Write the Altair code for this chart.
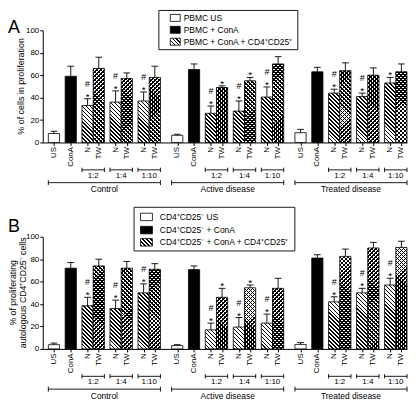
import math
import altair as alt
import pandas as pd

# ---------------- data ----------------
GROUPS = ["Control", "Active disease", "Treated disease"]
CONDITIONS = ["US", "ConA", "N", "TW", "N", "TW", "N", "TW"]
RATIOS = ["1:2", "1:4", "1:10"]

A_MEAN = [[8, 59, 33, 66, 36, 57, 37, 58],
          [6.4, 65, 26, 49, 28, 55, 40.5, 70],
          [8.7, 63, 44, 64, 41, 60, 53, 63]]
A_SEM = [[2, 9, 6, 10, 10, 5, 8, 10],
         [0.9, 5, 6.5, 1.5, 9, 3, 9, 6.5],
         [3, 4, 3.5, 7, 3, 6.5, 5, 7]]
A_STAR = [[0, 0, 1, 0, 1, 0, 1, 0], [0, 0, 1, 1, 1, 1, 1, 0], [0, 0, 1, 0, 1, 0, 1, 0]]
A_HASH = [[0, 0, 1, 0, 1, 0, 1, 0], [0, 0, 1, 0, 1, 0, 1, 0], [0, 0, 1, 0, 1, 0, 0, 0]]

B_MEAN = [[3.8, 72, 38.5, 74, 36, 72, 50, 71],
          [3, 70.7, 17, 46, 19.5, 54.5, 23, 54],
          [4, 81, 42, 82.5, 50, 90, 57, 90.5]]
B_SEM = [[1.4, 5, 7.5, 6, 7.5, 6, 8, 5],
         [0.8, 3.3, 6, 8, 8.5, 2.5, 8, 9],
         [1.6, 3, 4.5, 6.5, 4, 5, 6, 5.5]]
B_STAR = [[0, 0, 1, 0, 1, 0, 1, 0], [0, 0, 1, 1, 1, 1, 1, 0], [0, 0, 1, 0, 1, 0, 1, 0]]
B_HASH = [[0, 0, 1, 0, 1, 0, 1, 0], [0, 0, 1, 0, 1, 0, 1, 0], [0, 0, 1, 0, 1, 0, 1, 0]]

A_LEGEND = ["PBMC US", "PBMC + ConA", "PBMC + ConA + CD4\u207aCD25\u207a"]
B_LEGEND = ["CD4\u207aCD25\u207b US", "CD4\u207aCD25\u207b + ConA",
            "CD4\u207aCD25\u207b + ConA + CD4\u207aCD25\u207a"]
A_YTITLE = ["% of cells in proliferation"]
B_YTITLE = ["% of proliferating", "autologous CD4\u207aCD25\u207b cells"]

# ---------------- layout / style ----------------
PW, PH = 367, 113
XMAX = 32.5
SLOT = [0, 1.5, 3, 4, 5.5, 6.5, 8, 9]
GSTEP = 11
X0 = 1
FONT = "Liberation Sans, Arial, Helvetica, sans-serif"
PERIOD = 4.0
INK = 0.42
UNIT_PX = PW / XMAX

xs = alt.Scale(domain=[0, XMAX], nice=False, zero=False)
ys = alt.Scale(domain=[0, 100], nice=False, zero=True)

BAR_POS = [X0 + g * GSTEP + s for g in range(len(GROUPS)) for s in SLOT]
XAXIS = alt.Axis(values=BAR_POS, labels=False, tickSize=3, title=None, grid=False,
                 domainColor="black", tickColor="black", domainWidth=1, tickWidth=1)
YAXIS = alt.Axis(values=[0, 20, 40, 60, 80, 100], tickSize=3, title=None, grid=False,
                 labelFontSize=8, labelPadding=1, labelColor="black", labelFont=FONT,
                 domainColor="black", tickColor="black", domainWidth=1, tickWidth=1)


def X(f):
    return alt.X(f, scale=xs, axis=XAXIS)


def Y(f):
    return alt.Y(f, scale=ys, axis=YAXIS)


def stripe_fill(wpx, hpx, forward, paper):
    L = wpx + hpx
    k = L / (wpx ** 2 + hpx ** 2)
    if forward:
        x1, y1, x2, y2 = 0, 0, k * wpx, k * hpx
    else:
        x1, y1, x2, y2 = 0, 1, k * wpx, 1 - k * hpx
    stops = []
    n = int(math.ceil(L / PERIOD))
    for i in range(n):
        a = min(i * PERIOD / L, 1)
        b = min((i * PERIOD + INK * PERIOD) / L, 1)
        c = min((i + 1) * PERIOD / L, 1)
        stops += [(a, "black"), (b, "black"), (b, paper), (c, paper)]
    return {"gradient": "linear", "x1": x1, "y1": y1, "x2": x2, "y2": y2,
            "stops": [{"offset": round(o, 5), "color": col} for o, col in stops]}


def enc_rect():
    return dict(x=X("lo:Q"), x2="hi:Q", y=Y("mean:Q"), y2=alt.datum(0))


def panel(mean, sem, star, hsh, legend, ytitle, letter, lg):
    rows = []
    for g, grp in enumerate(GROUPS):
        for i, cond in enumerate(CONDITIONS):
            pos = X0 + g * GSTEP + SLOT[i]
            rows.append(dict(group=grp, cond=cond, idx=i, pos=pos, lo=pos - 0.5, hi=pos + 0.5,
                             clo=pos - 0.3, chi=pos + 0.3, mean=mean[g][i],
                             top=mean[g][i] + sem[g][i], star=star[g][i], hsh=hsh[g][i]))
    df = pd.DataFrame(rows)
    layers = []

    # US bars
    layers.append(alt.Chart(df[df.cond == "US"]).mark_rect(
        fill="white", stroke="black", strokeWidth=0.8).encode(**enc_rect()))
    # ConA bars
    layers.append(alt.Chart(df[df.cond == "ConA"]).mark_rect(
        fill="black", stroke="black", strokeWidth=0.8).encode(**enc_rect()))
    # hatched bars
    for _, r in df[df.cond.isin(["N", "TW"])].iterrows():
        hpx = r["mean"] / 100 * PH
        one = pd.DataFrame([r.to_dict()])
        if r["cond"] == "N":
            layers.append(alt.Chart(one).mark_rect(
                fill=stripe_fill(UNIT_PX, hpx, False, "white"), stroke="black",
                strokeWidth=0.8).encode(**enc_rect()))
        else:
            layers.append(alt.Chart(one).mark_rect(
                fill=stripe_fill(UNIT_PX, hpx, False, "white")).encode(**enc_rect()))
            layers.append(alt.Chart(one).mark_rect(
                fill=stripe_fill(UNIT_PX, hpx, True, "rgba(0,0,0,0)"), stroke="black",
                strokeWidth=0.8).encode(**enc_rect()))
    # error bars
    layers.append(alt.Chart(df).mark_rule(color="black", strokeWidth=0.9).encode(
        x=X("pos:Q"), y=Y("mean:Q"), y2="top:Q"))
    layers.append(alt.Chart(df).mark_rule(color="black", strokeWidth=0.9).encode(
        x=X("clo:Q"), x2="chi:Q", y=Y("top:Q")))
    # significance marks
    layers.append(alt.Chart(df[df.star == 1]).mark_text(
        text="*", font=FONT, fontSize=10, baseline="alphabetic", dy=1, color="black").encode(
        x=X("pos:Q"), y=Y("top:Q")))
    layers.append(alt.Chart(df[df.hsh == 1]).mark_text(
        text="#", font=FONT, fontSize=9, baseline="alphabetic", dy=-12, color="black").encode(
        x=X("pos:Q"), y=Y("top:Q")))
    # rotated category labels
    layers.append(alt.Chart(df).mark_text(
        angle=270, align="right", baseline="middle", font=FONT, fontSize=8,
        color="black").encode(x=X("pos:Q"), y=alt.value(PH + 4.5), text="cond:N"))
    # ratio brackets
    rr, ends = [], []
    for g, grp in enumerate(GROUPS):
        for j, rat in enumerate(RATIOS):
            n_pos = X0 + g * GSTEP + SLOT[2 + 2 * j]
            t_pos = X0 + g * GSTEP + SLOT[3 + 2 * j]
            rr.append(dict(lo=n_pos - 0.5, hi=t_pos + 0.5, mid=(n_pos + t_pos) / 2, label=rat))
            ends += [dict(x=n_pos - 0.5), dict(x=t_pos + 0.5)]
    rdf, edf = pd.DataFrame(rr), pd.DataFrame(ends)
    layers.append(alt.Chart(rdf).mark_rule(color="black", strokeWidth=0.9).encode(
        x=X("lo:Q"), x2="hi:Q", y=alt.value(PH + 27.6)))
    layers.append(alt.Chart(edf).mark_rule(color="black", strokeWidth=0.9).encode(
        x=X("x:Q"), y=alt.value(PH + 25.4), y2=alt.value(PH + 29.8)))
    layers.append(alt.Chart(rdf).mark_text(font=FONT, fontSize=8, baseline="middle",
                                           color="black").encode(
        x=X("mid:Q"), y=alt.value(PH + 33.8), text="label:N"))
    # group brackets
    gr, gends = [], []
    for g, grp in enumerate(GROUPS):
        a = X0 + g * GSTEP + SLOT[0] - 0.5
        b = X0 + g * GSTEP + SLOT[-1] + 0.5
        gr.append(dict(lo=a, hi=b, mid=(a + b) / 2, label=grp))
        gends += [dict(x=a), dict(x=b)]
    gdf, gedf = pd.DataFrame(gr), pd.DataFrame(gends)
    layers.append(alt.Chart(gdf).mark_rule(color="black", strokeWidth=0.9).encode(
        x=X("lo:Q"), x2="hi:Q", y=alt.value(PH + 40.5)))
    layers.append(alt.Chart(gedf).mark_rule(color="black", strokeWidth=0.9).encode(
        x=X("x:Q"), y=alt.value(PH + 38), y2=alt.value(PH + 43)))
    layers.append(alt.Chart(gdf).mark_text(font=FONT, fontSize=8.5, baseline="middle",
                                           color="black").encode(
        x=X("mid:Q"), y=alt.value(PH + 47), text="label:N"))

    # legend (drawn)
    one = pd.DataFrame({"k": [0]})
    bx0, bx1, by0, by1, rows_y, sx0, sx1, sh, tx = lg
    layers.append(alt.Chart(one).mark_rect(fill="white", stroke="black", strokeWidth=0.9).encode(
        x=alt.value(bx0), x2=alt.value(bx1), y=alt.value(by0), y2=alt.value(by1)))
    fills = ["white", "black", stripe_fill(sx1 - sx0, sh, False, "white")]
    for k in range(3):
        layers.append(alt.Chart(one).mark_rect(fill=fills[k], stroke="black",
                                               strokeWidth=0.8).encode(
            x=alt.value(sx0), x2=alt.value(sx1), y=alt.value(rows_y[k] - sh / 2),
            y2=alt.value(rows_y[k] + sh / 2)))
        layers.append(alt.Chart(one).mark_text(align="left", baseline="middle", font=FONT,
                                               fontSize=8.5, color="black",
                                               text=legend[k]).encode(
            x=alt.value(tx), y=alt.value(rows_y[k])))
    # panel letter and y title
    layers.append(alt.Chart(one).mark_text(align="left", baseline="alphabetic", font=FONT,
                                           fontSize=18, color="black", text=letter[0]).encode(
        x=alt.value(-35), y=alt.value(letter[1])))
    if len(ytitle) == 1:
        xs_t = [-22]
    else:
        xs_t = [-29.5, -19.5]
    for t, xt in zip(ytitle, xs_t):
        layers.append(alt.Chart(one).mark_text(angle=270, align="center", baseline="middle",
                                               font=FONT, fontSize=9 if len(ytitle) == 1 else 8.8,
                                               color="black", text=t).encode(
            x=alt.value(xt), y=alt.value(PH / 2)))
    return alt.layer(*layers).properties(width=PW, height=PH)


panel_a = panel(A_MEAN, A_SEM, A_STAR, A_HASH, A_LEGEND, A_YTITLE, ("A", 3),
                (117, 257, -20, 19.5, [-12.5, -0.5, 11.5], 128.5, 138.5, 7, 142))
panel_b = panel(B_MEAN, B_SEM, B_STAR, B_HASH, B_LEGEND, B_YTITLE, ("B", -4.4),
                (92, 254, -29.7, 14.3, [-20, -6.7, 5.6], 98.5, 110.5, 7.5, 118))

chart = alt.vconcat(panel_a, panel_b, spacing=12).properties(padding=0).configure_view(
    stroke=None)

chart.save("out.html", embed_options={"renderer": "svg", "actions": False})
